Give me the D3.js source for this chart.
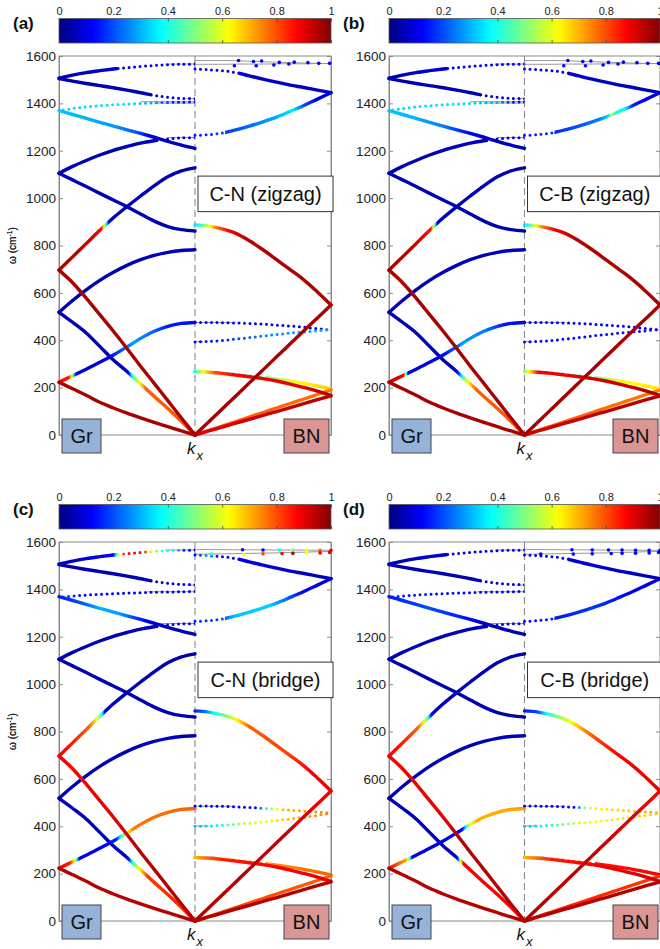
<!DOCTYPE html>
<html><head><meta charset="utf-8">
<script src="https://cdn.jsdelivr.net/npm/d3@7"></script>
<style>body{margin:0;background:#fff;}svg{display:block;font-family:"Liberation Sans",Arial,Helvetica,sans-serif;}</style>
</head><body>
<svg id="c" width="660" height="949"></svg>
<script>
// ---------------- DATA ----------------
// k: 0 = kx centre (dashed line), 1 = outer edge of each half
const kGrid = [0,0.1,0.2,0.3,0.4,0.5,0.6,0.7,0.8,0.9,1];
const omegaTicks = [0,200,400,600,800,1000,1200,1400,1600];
const cbTicks = [0,0.2,0.4,0.6,0.8,1];
const cbTickLabels = ["0","0.2","0.4","0.6","0.8","1"];
const panelLetters = ["(a)","(b)","(c)","(d)"];
const panelTitles = ["C-N (zigzag)","C-B (zigzag)","C-N (bridge)","C-B (bridge)"];
const panelGeometry = ["zz","zz","br","br"];

// graphene half (left), omega (cm^-1) at kGrid
const grL1 = [1566,1565,1563,1560,1556,1551,1545,1538,1530,1519,1506];
const grL2 = [1420,1421,1426,1434,1445,1456,1466,1475,1484,1494,1505];
const grL3zz = [1406,1405,1404,1402,1400,1397,1394,1390,1385,1378,1369];
const grL3br = [1391,1390,1389,1388,1386,1384,1382,1379,1376,1372,1366];
const grL4 = [1210,1224,1240,1257,1273,1288,1304,1320,1337,1353,1369];
const grL5 = [1256,1254,1250,1242,1232,1218,1202,1182,1159,1134,1105];
const grL6 = [861,867,880,903,933,964,992,1020,1049,1077,1105];
const grL7 = [1128,1115,1090,1052,1009,964,917,864,808,752,696];
const grL8 = [782,779,771,758,740,716,687,653,613,568,518];
const grL9 = [0,72,145,218,290,365,438,508,578,643,696];
const grL10 = [0,58,112,163,215,268,317,374,431,476,518];
const grL11 = [475,471,459,438,408,372,338,307,278,250,223];
const grL12 = [0,17,35,53,72,92,114,138,168,195,223];

// BN half (right), omega at kGrid
const bnR2 = [1545,1542,1538,1530,1516,1502,1490,1477,1467,1456,1445];
const bnR3 = [1265,1268,1275,1288,1304,1322,1342,1366,1391,1418,1445];
const bnR4 = [887,882,870,851,820,782,740,698,655,604,549];
const bnR5 = [0,55,110,165,220,275,330,385,440,494,549];
const bnR6zz = [475,475,474,473,471,468,464,460,455,449,443];
const bnR6br = [485,485,484,482,479,476,472,468,464,460,456];
const bnR7zz = [393,395,399,405,411,418,424,430,435,440,446];
const bnR7br = [400,401,404,408,413,418,424,431,438,446,454];
const bnR8 = [268,266,262,256,250,243,236,227,218,207,195];
const bnR9 = [268,265,260,253,246,238,228,215,201,185,167];
const bnR10 = [0,19,38,57,76,95,114,133,152,171,190];
const bnR11 = [0,17,33,50,66,83,99,116,132,149,165];

// grey interface lines at the top of the BN half
const bnTop1zz = [1581,1581,1581,1580,1578,1576,1574,1572,1570,1569,1568];
const bnTop2zz = [1565,1565,1565,1566,1566,1566,1567,1567,1567,1568,1568];
const bnTop1br = [1568,1568,1568,1567,1567,1567,1566,1566,1566,1565,1565];
const bnTop2br = [1548,1549,1550,1551,1552,1553,1554,1556,1557,1559,1560];

// short flat grey lines next to kx = 0: [side, k extent, omega]
const flatZZ = [["L",0.22,1566],["L",0.06,1420],["L",0.4,1407],["L",0.3,1401],["L",0.2,1256],["L",0.03,1130],["L",0.04,862],["L",0.04,782],["R",0.3,475],["R",0.06,394],["R",0.07,268]];
const flatBR = [["L",0.22,1566],["L",0.06,1418],["L",0.35,1390],["L",0.3,1256],["L",0.03,1122],["L",0.04,862],["L",0.04,785],["R",0.3,484],["R",0.1,401],["R",0.15,270]];

// scattered interface points near the top of the BN half
const topZZk = [0.29,0.32,0.43,0.45,0.49,0.58,0.62,0.69,0.73,0.83,0.91,0.99];
const topZZw = [1559,1581,1577,1559,1579,1562,1573,1566,1574,1572,1569,1569];
const topBRk = [0.35,0.5,0.62,0.72,0.82,0.92,1.0,0.12,0.36,0.5,0.64,0.72,0.82,0.92,0.99];
const topBRw = [1567,1566,1566,1566,1565,1565,1565,1549,1549,1550,1551,1552,1553,1554,1556];
const topValsA = [0.12,0.12,0.12,0.12,0.12,0.12,0.12,0.12,0.12,0.12,0.12,0.12];
const topValsB = [0.12,0.12,0.12,0.12,0.12,0.12,0.12,0.12,0.12,0.12,0.12,0.12];
const topValsC = [0.12,0.12,0.38,0.5,0.62,0.78,0.88,0.38,0.62,0.8,0.88,0.95,0.62,0.88,0.9];
const topValsD = [0.12,0.12,0.12,0.12,0.12,0.12,0.12,0.12,0.12,0.12,0.12,0.12,0.12,0.12,0.12];

// colour weight along each band: [k, value 0..1]
const colA = {
 L1:[[0,.12],[.5,.1],[1,.05]], L2:[[0,.1],[.4,.05],[1,.05]],
 L3:[[0,.15],[.15,.15],[.3,.28],[.5,.35],[1,.33]], L4:[[0,.05],[.3,.07],[.42,.2],[.6,.28],[1,.32]],
 L5:[[0,.12],[.3,.06],[1,.05]], L6:[[0,.05],[1,.05]],
 L7:[[0,.05],[.63,.06],[.65,.35],[.67,.62],[.69,.88],[.8,.93],[1,.96]], L8:[[0,.06],[1,.05]],
 L9:[[0,.96],[1,.96]], L10:[[0,.8],[.36,.78],[.41,.62],[.46,.4],[.49,.12],[.55,.05],[1,.05]],
 L11:[[0,.13],[.2,.15],[.3,.22],[.45,.28],[.55,.2],[.65,.1],[.87,.08],[.89,.3],[.905,.62],[.93,.85],[1,.88]],
 L12:[[0,.96],[1,.96]],
 R2:[[0,.12],[.3,.08],[1,.05]], R3:[[0,.15],[.3,.2],[.55,.28],[.65,.32],[.72,.36],[.8,.2],[.9,.12],[1,.08]],
 R4:[[0,.35],[.05,.45],[.1,.6],[.15,.75],[.25,.88],[.4,.95],[1,.96]], R5:[[0,.96],[1,.96]],
 R6:[[0,.12],[1,.1]], R7:[[0,.12],[.2,.15],[.5,.25],[1,.3]],
 R8:[[0,.38],[.3,.4],[.55,.5],[.75,.62],[1,.68]], R9:[[0,.4],[.05,.6],[.15,.8],[.3,.88],[.8,.9],[1,.95]],
 R10:[[0,.8],[1,.76]], R11:[[0,.9],[1,.95]]
};
const colB = {
 L1:[[0,.12],[.5,.1],[1,.05]], L2:[[0,.1],[.4,.05],[1,.05]],
 L3:[[0,.12],[.1,.15],[.2,.3],[.5,.35],[1,.33]], L4:[[0,.05],[.3,.07],[.45,.15],[.6,.25],[.8,.3],[1,.32]],
 L5:[[0,.12],[.3,.06],[1,.05]], L6:[[0,.05],[1,.05]],
 L7:[[0,.05],[.64,.06],[.66,.4],[.675,.62],[.69,.85],[.8,.93],[1,.96]], L8:[[0,.06],[1,.05]],
 L9:[[0,.96],[1,.96]], L10:[[0,.8],[.36,.78],[.42,.62],[.46,.4],[.49,.15],[.52,.05],[1,.05]],
 L11:[[0,.12],[.15,.15],[.3,.25],[.45,.28],[.6,.12],[.86,.08],[.875,.5],[.89,.88],[1,.95]],
 L12:[[0,.96],[1,.96]],
 R2:[[0,.12],[.3,.08],[1,.05]], R3:[[0,.15],[.3,.18],[.55,.25],[.62,.35],[.64,.6],[.67,.4],[.75,.35],[.8,.15],[1,.08]],
 R4:[[0,.35],[.04,.45],[.08,.6],[.13,.75],[.22,.88],[.4,.95],[1,.96]], R5:[[0,.96],[1,.96]],
 R6:[[0,.12],[1,.1]], R7:[[0,.12],[1,.15]],
 R8:[[0,.55],[.05,.3],[.3,.33],[.45,.45],[.6,.55],[.75,.62],[1,.65]], R9:[[0,.5],[.1,.88],[.6,.92],[1,.95]],
 R10:[[0,.8],[1,.75]], R11:[[0,.92],[1,.95]]
};
const colC = {
 L1:[[0,.12],[.08,.15],[.15,.38],[.22,.42],[.28,.5],[.32,.62],[.36,.8],[.4,.88],[.5,.88],[.53,.8],[.56,.62],[.6,.12],[1,.06]],
 L2:[[0,.1],[.4,.05],[1,.05]], L3:[[0,.12],[.8,.12],[1,.2]],
 L4:[[0,.05],[.3,.07],[.4,.15],[.55,.28],[.7,.3],[.85,.2],[1,.15]],
 L5:[[0,.12],[.3,.06],[1,.05]], L6:[[0,.05],[1,.05]],
 L7:[[0,.05],[.66,.06],[.68,.35],[.7,.5],[.72,.62],[.78,.78],[.9,.85],[1,.88]], L8:[[0,.06],[1,.05]],
 L9:[[0,.95],[.4,.95],[.6,.9],[1,.88]], L10:[[0,.85],[.35,.82],[.41,.62],[.46,.4],[.49,.12],[.52,.05],[1,.05]],
 L11:[[0,.78],[.45,.76],[.5,.62],[.54,.42],[.58,.15],[.85,.1],[.87,.4],[.885,.62],[.92,.85],[1,.88]],
 L12:[[0,.95],[1,.95]],
 R2:[[0,.12],[.1,.3],[.15,.12],[1,.05]], R3:[[0,.15],[.2,.2],[.3,.32],[.55,.33],[.7,.2],[.8,.12],[1,.08]],
 R4:[[0,.15],[.08,.25],[.135,.38],[.23,.5],[.3,.62],[.4,.78],[.7,.82],[.85,.88],[1,.9]],
 R5:[[0,.95],[.6,.94],[.85,.9],[1,.88]],
 R6:[[0,.12],[.45,.12],[.55,.5],[.65,.7],[1,.75]], R7:[[0,.3],[.2,.38],[.35,.55],[.5,.62],[.7,.7],[1,.75]],
 R8:[[0,.38],[.1,.4],[.18,.6],[.4,.72],[1,.78]], R9:[[0,.7],[.2,.85],[1,.9]],
 R10:[[0,.82],[1,.78]], R11:[[0,.95],[1,.95]]
};
const colD = {
 L1:[[0,.12],[1,.05]], L2:[[0,.1],[.4,.05],[1,.05]], L3:[[0,.12],[1,.15]],
 L4:[[0,.05],[.3,.06],[.45,.15],[.7,.2],[1,.15]],
 L5:[[0,.12],[.3,.06],[1,.05]], L6:[[0,.05],[1,.05]],
 L7:[[0,.05],[.66,.06],[.69,.15],[.71,.4],[.74,.62],[.79,.78],[.9,.85],[1,.88]], L8:[[0,.06],[1,.05]],
 L9:[[0,.95],[.5,.95],[.6,.9],[1,.88]], L10:[[0,.88],[.45,.88],[.47,.62],[.49,.2],[.51,.05],[1,.05]],
 L11:[[0,.72],[.35,.7],[.4,.62],[.43,.4],[.46,.12],[.83,.1],[.85,.5],[.87,.7],[1,.88]],
 L12:[[0,.95],[1,.95]],
 R2:[[0,.12],[1,.05]], R3:[[0,.12],[.5,.18],[.8,.12],[1,.08]],
 R4:[[0,.15],[.1,.2],[.16,.38],[.24,.5],[.34,.62],[.45,.75],[.55,.82],[.7,.88],[1,.9]],
 R5:[[0,.95],[.6,.93],[.8,.9],[1,.88]],
 R6:[[0,.12],[.38,.12],[.45,.55],[.6,.65],[1,.72]], R7:[[0,.3],[.15,.38],[.3,.5],[.45,.62],[1,.68]],
 R8:[[0,.38],[.08,.45],[.15,.62],[.3,.75],[.5,.85],[1,.88]], R9:[[0,.7],[.2,.85],[.5,.88],[1,.92]],
 R10:[[0,.85],[1,.82]], R11:[[0,.95],[1,.95]]
};
const panelColors = [colA,colB,colC,colD];
const panelTopVals = [topValsA,topValsB,topValsC,topValsD];

// ---------------- DRAWING ----------------
function bandsFor(g){
  return [
   {id:"L1",s:"L",w:grL1},{id:"L2",s:"L",w:grL2},{id:"L3",s:"L",w:g==="zz"?grL3zz:grL3br},
   {id:"L4",s:"L",w:grL4},{id:"L5",s:"L",w:grL5},{id:"L6",s:"L",w:grL6},{id:"L8",s:"L",w:grL8},
   {id:"L7",s:"L",w:grL7},{id:"L10",s:"L",w:grL10},{id:"L11",s:"L",w:grL11},
   {id:"L9",s:"L",w:grL9},{id:"L12",s:"L",w:grL12},
   {id:"R2",s:"R",w:bnR2},{id:"R3",s:"R",w:bnR3},{id:"R6",s:"R",w:g==="zz"?bnR6zz:bnR6br},
   {id:"R7",s:"R",w:g==="zz"?bnR7zz:bnR7br},{id:"R4",s:"R",w:bnR4},{id:"R8",s:"R",w:bnR8},
   {id:"R10",s:"R",w:bnR10},{id:"R9",s:"R",w:bnR9},{id:"R11",s:"R",w:bnR11},{id:"R5",s:"R",w:bnR5}
  ];
}
// portions of a band drawn as separate dots instead of a continuous trace (k range from centre)
const dottedTo = {L1:0.6,L2:0.35,L3:1,L5:0.3,R2:0.35,R3:0.25,R6:1,R7:1,R8:0.55};

function jet(t){
  const c=v=>Math.max(0,Math.min(1,v));
  return d3.rgb(255*c(1.5-Math.abs(4*t-3)),255*c(1.5-Math.abs(4*t-2)),255*c(1.5-Math.abs(4*t-1))).formatHex();
}
function fineStops(stops){
  const out=[];
  stops.forEach((s,i)=>{
    if(i>0){const [k0,v0]=stops[i-1];const [k1,v1]=s;
      for(let j=1;j<8;j++){const f=j/8;out.push([k0+(k1-k0)*f,v0+(v1-v0)*f]);}}
    out.push(s);
  });
  return out;
}

const svg=d3.select("#c");
const defs=svg.append("defs");
const layout=[{x0:59,y0:56,w:272},{x0:389,y0:56,w:271},{x0:59,y0:542,w:272},{x0:389,y0:542,w:271}];
const H=379;
const frameCol="#8a8a8a";

// colourbar gradient
const cbg=defs.append("linearGradient").attr("id","jetbar");
d3.range(0,1.0001,0.02).forEach(t=>cbg.append("stop").attr("offset",t).attr("stop-color",jet(t)));

layout.forEach((L,pi)=>{
  const x0=L.x0,y0=L.y0,w=L.w,xc=x0+w/2;
  const geo=panelGeometry[pi];
  const cols=panelColors[pi];
  const g=svg.append("g");
  const y=d3.scaleLinear().domain([0,1600]).range([y0+H,y0]);
  const xL=d3.scaleLinear().domain([0,1]).range([xc,x0]);
  const xR=d3.scaleLinear().domain([0,1]).range([xc,x0+w]);
  const xs=s=>s==="L"?xL:xR;

  // colour bar
  const cbTop=y0-37.5,cbH=24.5;
  const cbx=d3.scaleLinear().domain([0,1]).range([x0,x0+w]);
  g.append("rect").attr("x",x0).attr("y",cbTop).attr("width",w).attr("height",cbH)
    .attr("fill","url(#jetbar)").attr("stroke","#555").attr("stroke-width",0.8);
  const cbAxT=g.append("g").attr("transform",`translate(0,${cbTop})`)
    .call(d3.axisTop(cbx).tickValues(cbTicks).tickFormat((d,i)=>cbTickLabels[i]).tickSize(-3).tickSizeOuter(0).tickPadding(4));
  const cbAxB=g.append("g").attr("transform",`translate(0,${cbTop+cbH})`)
    .call(d3.axisBottom(cbx).tickValues(cbTicks).tickFormat("").tickSize(-3).tickSizeOuter(0));
  [cbAxT,cbAxB].forEach(a=>{a.select(".domain").remove();a.selectAll("line").attr("stroke","#444").attr("stroke-width",0.8);});
  cbAxT.selectAll("text").attr("font-size",11).attr("fill","#222").attr("font-family","Liberation Sans, Arial, sans-serif");

  // panel letter
  g.append("text").attr("x",x0-46).attr("y",cbTop+10).attr("font-size",17).attr("font-weight","bold")
    .attr("fill","#111").text(panelLetters[pi]);

  // frame & axes
  g.append("rect").attr("x",x0).attr("y",y0).attr("width",w).attr("height",H)
    .attr("fill","none").attr("stroke",frameCol).attr("stroke-width",1);
  const axL=g.append("g").attr("transform",`translate(${x0},0)`)
    .call(d3.axisLeft(y).tickValues(omegaTicks).tickFormat(d3.format("d")).tickSize(-4).tickSizeOuter(0).tickPadding(3));
  const axR=g.append("g").attr("transform",`translate(${x0+w},0)`)
    .call(d3.axisRight(y).tickValues(omegaTicks).tickSize(-4).tickSizeOuter(0).tickFormat(""));
  [axL,axR].forEach(a=>{a.select(".domain").attr("stroke",frameCol);a.selectAll("line").attr("stroke",frameCol);});
  axL.selectAll("text").attr("font-size",13.5).attr("fill","#222").attr("font-family","Liberation Sans, Arial, sans-serif");

  // y label
  const yl=g.append("text").attr("transform",`translate(16,${y(800)}) rotate(-90)`)
    .attr("text-anchor","middle").attr("font-size",10).attr("fill","#222");
  yl.append("tspan").text("\u03C9 (cm");
  yl.append("tspan").attr("font-size",7).attr("dy",-4).text("-1");
  yl.append("tspan").attr("dy",4).text(")");

  // dashed centre line
  g.append("line").attr("x1",xc).attr("x2",xc).attr("y1",y0).attr("y2",y(0))
    .attr("stroke","#8a8a8a").attr("stroke-width",1.1).attr("stroke-dasharray","7,4");

  // grey interface lines
  const flats=geo==="zz"?flatZZ:flatBR;
  flats.forEach(f=>{
    const sc=xs(f[0]);
    const dark=(geo==="zz"&&f[2]===268);
    g.append("line").attr("x1",sc(0)).attr("x2",sc(f[1])).attr("y1",y(f[2])).attr("y2",y(f[2]))
      .attr("stroke",dark?"#222":"#999").attr("stroke-width",dark?1.6:1);
  });
  const tl=d3.line().x(d=>xR(d[0])).y(d=>y(d[1]));
  [geo==="zz"?bnTop1zz:bnTop1br, geo==="zz"?bnTop2zz:bnTop2br].forEach(arr=>{
    g.append("path").attr("d",tl(kGrid.map((k,i)=>[k,arr[i]]))).attr("fill","none")
      .attr("stroke","#999").attr("stroke-width",1);
  });
  g.append("line").attr("x1",xc).attr("x2",xc)
    .attr("y1",y(geo==="zz"?bnTop1zz[0]:bnTop1br[0])).attr("y2",y(bnR2[0]))
    .attr("stroke","#999").attr("stroke-width",1.2);

  // bands
  bandsFor(geo).forEach(b=>{
    const sc=xs(b.s);
    const gid=`gr${pi}${b.id}`;
    const gr=defs.append("linearGradient").attr("id",gid).attr("gradientUnits","userSpaceOnUse")
      .attr("x1",sc(0)).attr("x2",sc(1)).attr("y1",0).attr("y2",0);
    fineStops(cols[b.id]).forEach(s=>gr.append("stop").attr("offset",s[0]).attr("stop-color",jet(s[1])));
    const line=d3.line().x(d=>sc(d[0])).y(d=>y(d[1])).curve(d3.curveCatmullRom.alpha(0.5));
    const d=line(kGrid.map((k,i)=>[k,b.w[i]]));
    const kd=dottedTo[b.id]||0;
    const xa=sc(0),xb=sc(kd),xe=sc(1);
    if(kd>0){
      const cid=`cd${pi}${b.id}`;
      defs.append("clipPath").attr("id",cid).append("rect")
        .attr("x",Math.min(xa,xb)-3).attr("width",Math.abs(xb-xa)+3).attr("y",y0-10).attr("height",H+20);
      g.append("path").attr("d",d).attr("fill","none").attr("stroke",`url(#${gid})`)
        .attr("stroke-width",3).attr("stroke-linecap","round").attr("stroke-dasharray","0 5.5")
        .attr("clip-path",`url(#${cid})`);
    }
    if(kd<1){
      const sid=`cs${pi}${b.id}`;
      defs.append("clipPath").attr("id",sid).append("rect")
        .attr("x",Math.min(xb,xe)-4).attr("width",Math.abs(xe-xb)+8).attr("y",y0-10).attr("height",H+20);
      g.append("path").attr("d",d).attr("fill","none").attr("stroke",`url(#${gid})`)
        .attr("stroke-width",3.4).attr("stroke-linecap","round").attr("stroke-linejoin","round")
        .attr("clip-path",kd>0?`url(#${sid})`:null);
    }
  });

  // scattered interface points
  const tk=geo==="zz"?topZZk:topBRk, tw=geo==="zz"?topZZw:topBRw, tv=panelTopVals[pi];
  g.selectAll("circle.tp").data(tk).join("circle").attr("class","tp")
    .attr("cx",(k)=>xR(k)).attr("cy",(k,i)=>y(tw[i])).attr("r",1.8).attr("fill",(k,i)=>jet(tv[i]));

  // title box
  const bx0=xc+3,bx1=x0+w+2;
  g.append("rect").attr("x",bx0).attr("y",y(1093)).attr("width",bx1-bx0).attr("height",y(943)-y(1093))
    .attr("fill","#fff").attr("stroke","#333").attr("stroke-width",1);
  g.append("text").attr("x",(bx0+bx1)/2).attr("y",(y(1093)+y(943))/2+7).attr("text-anchor","middle")
    .attr("font-size",20).attr("fill","#111").text(panelTitles[pi]);

  // Gr / BN boxes
  g.append("rect").attr("x",x0+3).attr("y",y(0)-16).attr("width",39).attr("height",34)
    .attr("fill","#95b3d7").attr("stroke","#444").attr("stroke-width",1);
  g.append("text").attr("x",x0+22.5).attr("y",y(0)+8).attr("text-anchor","middle").attr("font-size",20).attr("fill","#111").text("Gr");
  g.append("rect").attr("x",x0+w-47).attr("y",y(0)-16).attr("width",45).attr("height",34)
    .attr("fill","#d99694").attr("stroke","#444").attr("stroke-width",1);
  g.append("text").attr("x",x0+w-24.5).attr("y",y(0)+8).attr("text-anchor","middle").attr("font-size",20).attr("fill","#111").text("BN");

  // k_x label
  const kl=g.append("text").attr("x",xc-8).attr("y",y(0)+19).attr("font-size",17).attr("font-style","italic").attr("fill","#111");
  kl.append("tspan").text("k");
  kl.append("tspan").attr("font-size",13).attr("dy",6).attr("dx",1).text("x");
});
</script>
</body></html>
